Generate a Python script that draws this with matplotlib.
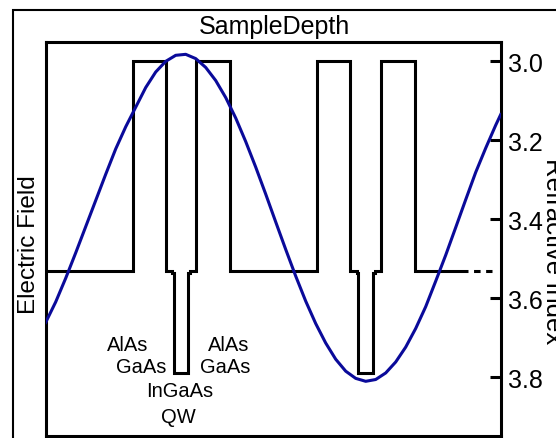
import matplotlib
matplotlib.use("Agg")
import matplotlib.pyplot as plt
from matplotlib.patches import Rectangle

plt.rcParams['font.family'] = ['Liberation Sans', 'DejaVu Sans']
plt.rcParams['lines.scale_dashes'] = False

#### Layer structure: depth edges and refractive index of each layer
layer_edges = [0, 87.6, 120.3, 126.3, 128.0, 142.6, 144.3, 150.0, 184.3,
               271.6, 304.3, 310.8, 312.6, 327.6, 329.3, 335.0, 369.3, 421.8]
layer_index = [3.53, 3.0, 3.53, 3.535, 3.79, 3.535, 3.53, 3.0, 3.53,
               3.0, 3.53, 3.535, 3.79, 3.535, 3.53, 3.0, 3.53]
substrate_end = 445.8

#### Standing wave of the electric field (normalised) along the depth
field_depth = [0, 10, 20, 30, 40, 50, 60, 70, 80, 90, 100, 110, 120, 130,
               140, 150, 160, 170, 180, 190, 200, 210, 220, 230, 240, 250,
               260, 270, 280, 290, 300, 310, 320, 330, 340, 350, 360, 370,
               380, 390, 400, 410, 420, 430, 440, 450, 455]
field_value = [-0.64, -0.515, -0.37, -0.215, -0.055, 0.105, 0.265, 0.42,
               0.555, 0.675, 0.795, 0.89, 0.955, 0.992, 0.998, 0.972, 0.918,
               0.838, 0.734, 0.609, 0.465, 0.309, 0.144, -0.026, -0.194,
               -0.357, -0.510, -0.647, -0.766, -0.865, -0.938, -0.982, -1.0,
               -0.989, -0.949, -0.882, -0.791, -0.677, -0.544, -0.388, -0.229,
               -0.060, 0.110, 0.277, 0.425, 0.565, 0.63]

ticks = [3.0, 3.2, 3.4, 3.6, 3.8]

#### Layer labels (name, depth, index)
labels = [('AlAs', 82.3, 3.7296), ('GaAs', 95.3, 3.7866),
          ('AlAs', 183.1, 3.7296), ('GaAs', 179.6, 3.7866),
          ('InGaAs', 134.3, 3.8473), ('QW', 132.3, 3.9119)]

W, H = 556, 439
fig = plt.figure(figsize=(W / 100, H / 100), dpi=100)
ax = fig.add_axes([45.7 / W, 1 - 437.3 / H, 455 / W, 394 / H])
# field curve sits on its own scale, drawn above the profile
ax_e = ax.twinx()

# index profile
ax.stairs(layer_index, layer_edges, baseline=None, color='black', lw=2.2)
ax.plot([layer_edges[-1], substrate_end], [layer_index[-1], layer_index[-1]],
        color='black', lw=2.2, linestyle=(4.7, (4.7, 4.0)))
ax.set_xlim(0, 455)
ax.set_ylim(3.949, 2.952)
ax.set_xticks([])
ax.set_yticks(ticks)
ax.set_yticklabels(['%.1f' % t for t in ticks])
ax.yaxis.tick_right()
ax.tick_params(axis='y', direction='in', length=8, width=2.2, pad=5,
               labelsize=18)
for s in ax.spines.values():
    s.set_linewidth(2.2)

for name, x, y in labels:
    ax.text(x, y, name, ha='center', va='baseline', fontsize=14.5)

ax_e.plot(field_depth, field_value, color='#0a0a9a', lw=2.2)
ax_e.set_ylim(-1.336, 1.0715)
ax_e.set_yticks([])
ax_e.set_xlim(0, 455)
for s in ax_e.spines.values():
    s.set_visible(False)

fig.text(274 / W, 1 - 27 / H, 'SampleDepth', ha='center', va='center',
         fontsize=18)
fig.text(28.9 / W, 1 - 245 / H, 'Electric Field', rotation=90,
         ha='center', va='center', fontsize=17.5)
fig.text(541.5 / W, 1 - 251 / H, 'Refractive Index', rotation=270,
         ha='left', va='center', fontsize=18.5)

# outer frame
fig.add_artist(Rectangle((13 / W, -0.5), 2, 0.5 + (1 - 11 / H),
                         transform=fig.transFigure, fill=False, lw=1.5,
                         edgecolor='black', clip_on=False))

fig.savefig('out.png', dpi=100)
